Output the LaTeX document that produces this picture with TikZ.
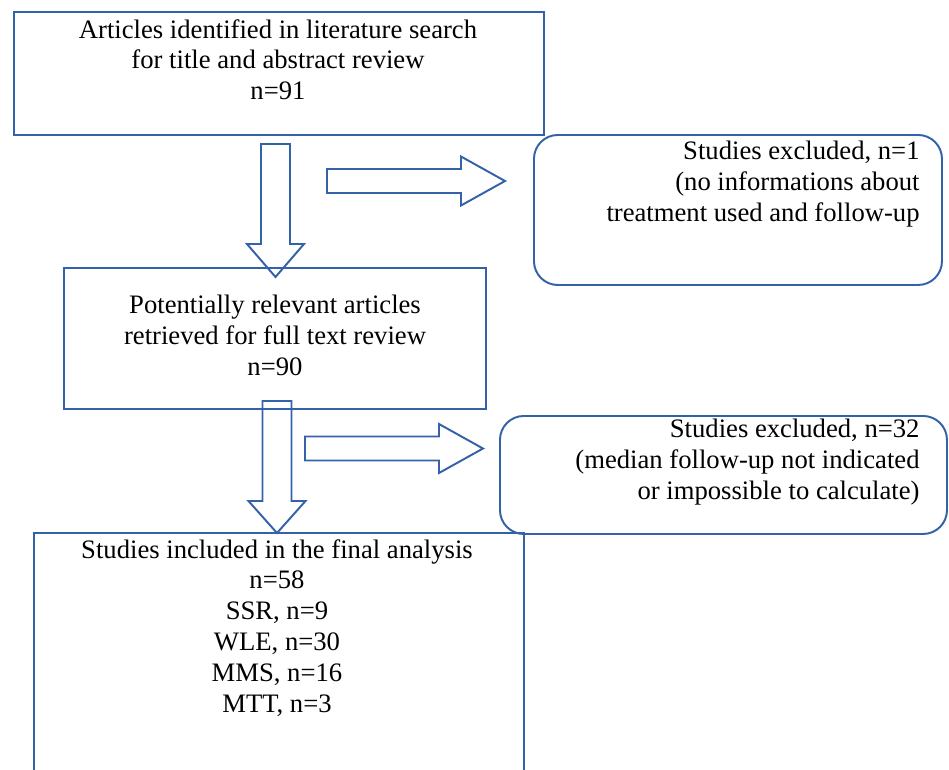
\documentclass[tikz,border=0pt]{standalone}
\usepackage{fontspec}
\setmainfont{Liberation Serif}
\definecolor{azul}{RGB}{52,98,168}
\def\px{0.4615pt}
\tikzset{
  caixa/.style={rectangle, draw=azul, line width=0.9pt, inner sep=0pt, anchor=north west},
  excluidos/.style={caixa, rounded corners=11pt},
  texto/.style={inner sep=0pt, font=\fontsize{12.3}{14.2}\selectfont},
  seta/.style={draw=azul, line width=0.9pt, line join=miter},
}
% seta vazada para baixo: centro x, topo, início da ponta, ponta
\newcommand{\setabaixo}[4]{%
  \draw[seta] ({#1-14.5},#2) -- ({#1+14.5},#2) -- ({#1+14.5},#3) -- ({#1+28.5},#3)
    -- (#1,#4) -- ({#1-28.5},#3) -- ({#1-14.5},#3) -- cycle;
}
% seta vazada para a direita: esquerda, centro y, início da ponta, ponta
\newcommand{\setadireita}[4]{%
  \draw[seta] (#1,{#2-12}) -- (#3,{#2-12}) -- (#3,{#2-24.5}) -- (#4,#2)
    -- (#3,{#2+24.5}) -- (#3,{#2+12}) -- (#1,{#2+12}) -- cycle;
}
\begin{document}
\begin{tikzpicture}[x=\px, y=-\px]
  \clip (0,0) rectangle (949,769);

  % ---------------- caixas ----------------
  \node[caixa, minimum width=530*\px, minimum height=123*\px] (identificados) at (13,11) {};
  \node[excluidos, minimum width=408*\px, minimum height=150*\px] (excluidosA) at (533,134) {};
  \node[caixa, minimum width=422*\px, minimum height=141*\px] (relevantes) at (63,267) {};
  \node[excluidos, minimum width=447*\px, minimum height=118*\px] (excluidosB) at (499,415) {};
  % a caixa final passa da borda de baixo
  \node[caixa, minimum width=490*\px, minimum height=280*\px] (incluidos) at (33,532) {};

  % ---------------- textos ----------------
  \node[texto, anchor=north, align=center] (tIdent) at (278,19)
    {Articles identified in literature search\\for title and abstract review\\n=91};
  \node[texto, anchor=north east, align=right] (tExclA) at (920,141)
    {Studies excluded, n=1\\(no informations about\\treatment used and follow-up};
  \node[texto, anchor=north, align=center] (tRelev) at (275,295)
    {Potentially relevant articles\\retrieved for full text review\\n=90};
  \node[texto, anchor=north east, align=right] (tExclB) at (920,419)
    {Studies excluded, n=32\\(median follow-up not indicated\\or impossible to calculate)};
  \node[texto, anchor=north, align=center] (tIncl) at (277,539)
    {Studies included in the final analysis\\n=58\\SSR, n=9\\WLE, n=30\\MMS, n=16\\MTT, n=3};

  % ---------------- setas ----------------
  \setabaixo{275.5}{144}{244}{277}
  \setadireita{327}{181}{461}{505}
  \setabaixo{277}{401}{501}{533}
  \setadireita{305}{448.5}{439}{483}
\end{tikzpicture}
\end{document}
